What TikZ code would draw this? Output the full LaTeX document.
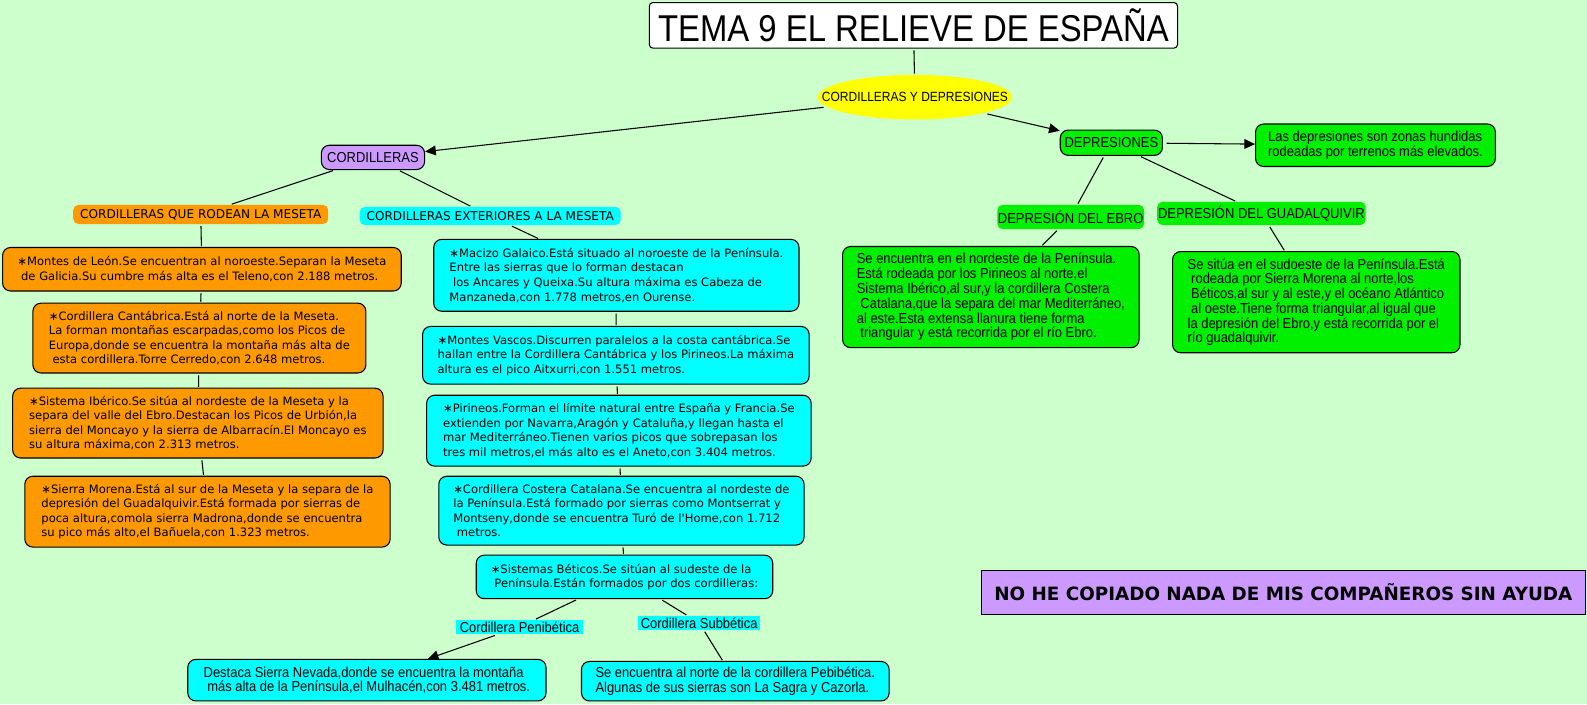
\documentclass[tikz,border=0pt]{standalone}
\usepackage{fontspec}
\setmainfont{DejaVu Sans}
\newfontfamily\narrowfont{Liberation Sans}[FakeStretch=0.9]
\newfontfamily\titlefont{Liberation Sans}[FakeStretch=0.88]
\usetikzlibrary{arrows.meta,shapes.geometric}
\definecolor{ink}{HTML}{000000}
\definecolor{paper}{HTML}{CCFFCC}
\definecolor{orangeBox}{HTML}{FF9900}
\definecolor{cyanBox}{HTML}{00FFFF}
\definecolor{greenBox}{HTML}{00F000}
\definecolor{lilac}{HTML}{CC99FF}
\definecolor{sun}{HTML}{FFFF00}

\begin{document}
\begin{tikzpicture}[
    x=0.02cm, y=-0.02cm,
    wide/.style={font=\fontsize{6.5}{8.2}\selectfont},
    header/.style={font=\fontsize{6.8}{8.2}\selectfont},
    narrow/.style={font=\narrowfont\fontsize{8.1}{8.3}\selectfont},
    card/.style={draw=ink, line width=0.6pt, rounded corners=4.5pt, anchor=north west, align=left, inner sep=0pt},
    tag/.style={rounded corners=3pt, anchor=north west, inner sep=0pt},
    link/.style={draw=ink, line width=0.6pt, shorten <=1pt, shorten >=0.5pt},
    arrow/.style={draw=ink, line width=0.6pt, shorten <=2pt, -{Triangle[length=6pt, width=5.5pt]}}
]

% Background and page size (units are pixels of the reference).
\fill[paper] (0,0) rectangle (1568,696);
\useasboundingbox (0,0) rectangle (1568,696);

% Title and central ellipse.
\node[draw=ink, fill=white, line width=0.6pt, rounded corners=2pt, anchor=north west, inner sep=0pt,
      minimum width=10.44cm, minimum height=0.90cm, font=\titlefont\fontsize{21}{24}\selectfont]
    (title) at (641,2) {TEMA 9 EL RELIEVE DE ESPAÑA};
\node[ellipse, fill=sun, inner sep=0pt, minimum width=3.84cm, minimum height=0.88cm,
      label={[font=\narrowfont\fontsize{7.5}{8}\selectfont]center:CORDILLERAS Y DEPRESIONES}] (relief) at (904,96) {};

% First level.
\node[card, fill=lilac, narrow, minimum width=2.04cm, minimum height=0.48cm] (cord) at (317,143) {CORDILLERAS};
\node[card, fill=greenBox, narrow, minimum width=2.02cm, minimum height=0.50cm] (depr) at (1047,128) {DEPRESIONES};
\node[card, fill=greenBox, narrow, minimum width=4.74cm, minimum height=0.84cm] (depdef) at (1240,122)
    {Las depresiones son zonas hundidas\\rodeadas por terrenos más elevados.};

% Mountain groups.
\node[tag, fill=orangeBox, header, minimum width=5.04cm, minimum height=0.38cm] (rodean) at (72,202)
    {CORDILLERAS QUE RODEAN LA MESETA};
\node[tag, fill=cyanBox, header, minimum width=5.16cm, minimum height=0.36cm] (exter) at (355,204)
    {CORDILLERAS EXTERIORES A LA MESETA};

% Ranges around the Meseta.
\node[card, fill=orangeBox, wide, minimum width=7.88cm, minimum height=0.86cm] (leon) at (2,244)
    {∗Montes de León.Se encuentran al noroeste.Separan la Meseta\\~de Galicia.Su cumbre más alta es el Teleno,con 2.188 metros.};
\node[card, fill=orangeBox, wide, minimum width=6.58cm, minimum height=1.38cm] (cantab) at (32,299)
    {∗Cordillera Cantábrica.Está al norte de la Meseta.\\La forman montañas escarpadas,como los Picos de\\Europa,donde se encuentra la montaña más alta de\\~esta cordillera.Torre Cerredo,con 2.648 metros.};
\node[card, fill=orangeBox, wide, minimum width=7.32cm, minimum height=1.38cm] (iberico) at (12,383)
    {∗Sistema Ibérico.Se sitúa al nordeste de la Meseta y la\\separa del valle del Ebro.Destacan los Picos de Urbión,la\\sierra del Moncayo y la sierra de Albarracín.El Moncayo es\\su altura máxima,con 2.313 metros.};
\node[card, fill=orangeBox, wide, minimum width=7.22cm, minimum height=1.40cm] (morena) at (24,470)
    {∗Sierra Morena.Está al sur de la Meseta y la separa de la\\depresión del Guadalquivir.Está formada por sierras de\\poca altura,comola sierra Madrona,donde se encuentra\\su pico más alto,el Bañuela,con 1.323 metros.};

% Outer ranges.
\node[card, fill=cyanBox, wide, minimum width=7.22cm, minimum height=1.42cm] (galaico) at (428,236)
    {∗Macizo Galaico.Está situado al noroeste de la Península.\\Entre las sierras que lo forman destacan\\~los Ancares y Queixa.Su altura máxima es Cabeza de\\Manzaneda,con 1.778 metros,en Ourense.};
\node[card, fill=cyanBox, wide, minimum width=7.64cm, minimum height=1.14cm] (vascos) at (417,322)
    {∗Montes Vascos.Discurren paralelos a la costa cantábrica.Se\\hallan entre la Cordillera Cantábrica y los Pirineos.La máxima\\altura es el pico Aitxurri,con 1.551 metros.};
\node[card, fill=cyanBox, wide, minimum width=7.60cm, minimum height=1.40cm] (pirineos) at (421,390)
    {∗Pirineos.Forman el límite natural entre España y Francia.Se\\extienden por Navarra,Aragón y Cataluña,y llegan hasta el\\mar Mediterráneo.Tienen varios picos que sobrepasan los\\tres mil metros,el más alto es el Aneto,con 3.404 metros.};
\node[card, fill=cyanBox, wide, minimum width=7.22cm, minimum height=1.36cm] (catalana) at (433,470)
    {∗Cordillera Costera Catalana.Se encuentra al nordeste de\\la Península.Está formado por sierras como Montserrat y\\Montseny,donde se encuentra Turó de l\textquotesingle Home,con 1.712\\~metros.};
\node[card, fill=cyanBox, wide, minimum width=5.86cm, minimum height=0.86cm] (beticos) at (470,548)
    {∗Sistemas Béticos.Se sitúan al sudeste de la\\~Península.Están formados por dos cordilleras:};

% Betic ranges.
\node[anchor=north west, inner sep=0pt, fill=cyanBox, narrow, minimum width=2.52cm, minimum height=0.28cm] (penib) at (450,612)
    {Cordillera Penibética};
\node[anchor=north west, inner sep=0pt, fill=cyanBox, narrow, minimum width=2.42cm, minimum height=0.28cm] (subb) at (630,608)
    {Cordillera Subbética};
\node[card, fill=cyanBox, narrow, minimum width=7.08cm, minimum height=0.82cm] (nevada) at (185,651)
    {Destaca Sierra Nevada,donde se encuentra la montaña\\~más alta de la Península,el Mulhacén,con 3.481 metros.};
\node[card, fill=cyanBox, narrow, minimum width=6.08cm, minimum height=0.78cm] (subbdesc) at (574,653)
    {Se encuentra al norte de la cordillera Pebibética.\\Algunas de sus sierras son La Sagra y Cazorla.};

% Depressions.
\node[tag, fill=greenBox, narrow, minimum width=2.90cm, minimum height=0.48cm] (ebro) at (985,202) {DEPRESIÓN DEL EBRO};
\node[tag, fill=greenBox, narrow, minimum width=4.12cm, minimum height=0.46cm] (guad) at (1143,199) {DEPRESIÓN DEL GUADALQUIVIR};
\node[card, fill=greenBox, narrow, minimum width=5.86cm, minimum height=2.00cm] (ebrodesc) at (832,243)
    {Se encuentra en el nordeste de la Península.\\Está rodeada por los Pirineos al norte,el\\Sistema Ibérico,al sur,y la cordillera Costera\\~Catalana,que la separa del mar Mediterráneo,\\al este.Esta extensa llanura tiene forma\\~triangular y está recorrida por el río Ebro.};
\node[card, fill=greenBox, narrow, minimum width=5.68cm, minimum height=2.00cm] (guaddesc) at (1158,248)
    {Se sitúa en el sudoeste de la Península.Está\\~rodeada por Sierra Morena al norte,los\\~Béticos,al sur y al este,y el océano Atlántico\\~al oeste.Tiene forma triangular,al igual que\\la depresión del Ebro,y está recorrida por el\\río guadalquivir.};

% Statement.
\node[draw=ink, fill=lilac, line width=0.6pt, anchor=north west, inner sep=0pt, minimum width=11.94cm, minimum height=0.88cm,
      font=\bfseries\fontsize{10.3}{12}\selectfont] (honesty) at (969,563) {NO HE COPIADO NADA DE MIS COMPAÑEROS SIN AYUDA};

% Connectors.
\draw[link] (title) -- (relief);
\draw[arrow] (relief) -- (cord);
\draw[arrow] (relief) -- (depr);
\draw[arrow] (depr) -- (depdef);
\draw[link] (cord) -- (rodean);
\draw[link] (cord) -- (exter);
\draw[link] (rodean) -- (leon);
\draw[link] (leon) -- (cantab);
\draw[link] (cantab) -- (iberico);
\draw[link] (iberico) -- (morena);
\draw[link] (exter) -- (galaico);
\draw[link] (galaico) -- (vascos);
\draw[link] (vascos) -- (pirineos);
\draw[link] (pirineos) -- (catalana);
\draw[link] (catalana) -- (beticos);
\draw[link] (beticos) -- (penib);
\draw[arrow] (penib) -- (nevada);
\draw[link] (beticos) -- (subb);
\draw[link] (subb) -- (subbdesc);
\draw[link] (depr) -- (ebro);
\draw[link] (depr) -- (guad);
\draw[link] (ebro) -- (ebrodesc);
\draw[link] (guad) -- (guaddesc);

\end{tikzpicture}
\end{document}
